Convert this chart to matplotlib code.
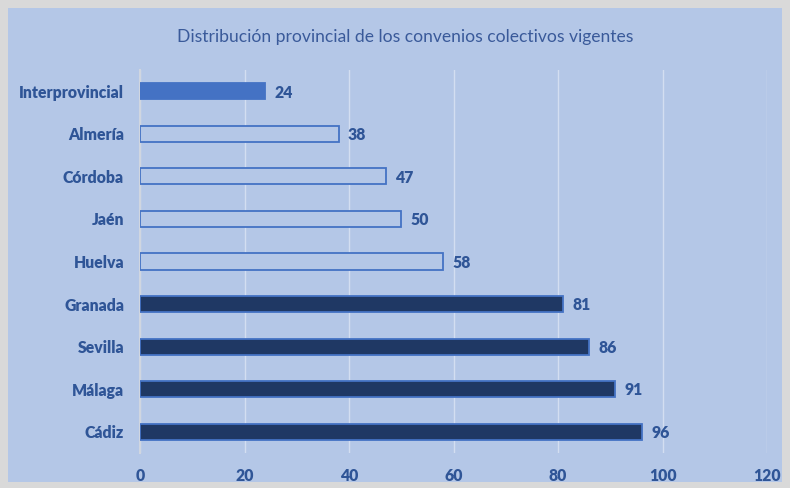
import matplotlib
matplotlib.use('Agg')
import matplotlib.pyplot as plt
from matplotlib.patches import Rectangle
import numpy as np

# data (top to bottom)
provincias = ['Interprovincial', 'Almería', 'Córdoba', 'Jaén', 'Huelva',
              'Granada', 'Sevilla', 'Málaga', 'Cádiz']
convenios = [24, 38, 47, 50, 58, 81, 86, 91, 96]
estilo = ['medio', 'hueco', 'hueco', 'hueco', 'hueco',
          'oscuro', 'oscuro', 'oscuro', 'oscuro']
ticks = [0, 20, 40, 60, 80, 100, 120]

bg = '#B4C7E7'
txt = '#2F5597'
plt.rcParams['font.family'] = ['Lato', 'DejaVu Sans']

fig = plt.figure(figsize=(7.9, 4.88), dpi=100)
fig.patch.set_facecolor('#D9D9D9')
fig.patches.append(Rectangle((8 / 790, 6 / 488), 774 / 790, 474 / 488,
                             transform=fig.transFigure, facecolor=bg,
                             edgecolor='none', zorder=-1))

ax = fig.add_axes([140 / 790, 1 - 453 / 488, 627 / 790, 383 / 488])
ax.set_facecolor(bg)

y = np.arange(len(provincias))
fills = {'medio': '#4472C4', 'hueco': bg, 'oscuro': '#1F3864'}
for yi, v, s in zip(y, convenios, estilo):
    ax.barh(yi, v, height=0.38, color=fills[s], edgecolor='#4472C4',
            linewidth=1.3, zorder=3)
    ax.text(v + 1.8, yi + 0.03, str(v), va='center', ha='left', fontsize=11.3,
            fontweight='heavy', color=txt)

ax.set_ylim(len(provincias) - 0.5, -0.5)
ax.set_xlim(0, 120)
ax.set_yticks(y)
ax.set_yticklabels(provincias, fontsize=11.3, fontweight='heavy', color=txt)
ax.set_xticks(ticks)
ax.set_xticklabels([str(t) for t in ticks], fontsize=11.3, fontweight='heavy', color=txt)
ax.tick_params(length=0, pad=11.5)
ax.tick_params(axis='x', pad=11)

ax.grid(axis='x', color='#D3DEF1', linewidth=1.0, zorder=0)
for s in ['top', 'right', 'bottom']:
    ax.spines[s].set_visible(False)
ax.spines['left'].set_color('#D0D6E0')
ax.spines['left'].set_linewidth(1.5)

fig.text(405 / 790, 1 - 37 / 488, 'Distribución provincial de los convenios colectivos vigentes',
         ha='center', va='center', fontsize=12.6, color='#3A5A9A')

fig.savefig('out.png', dpi=100, facecolor=fig.get_facecolor())
